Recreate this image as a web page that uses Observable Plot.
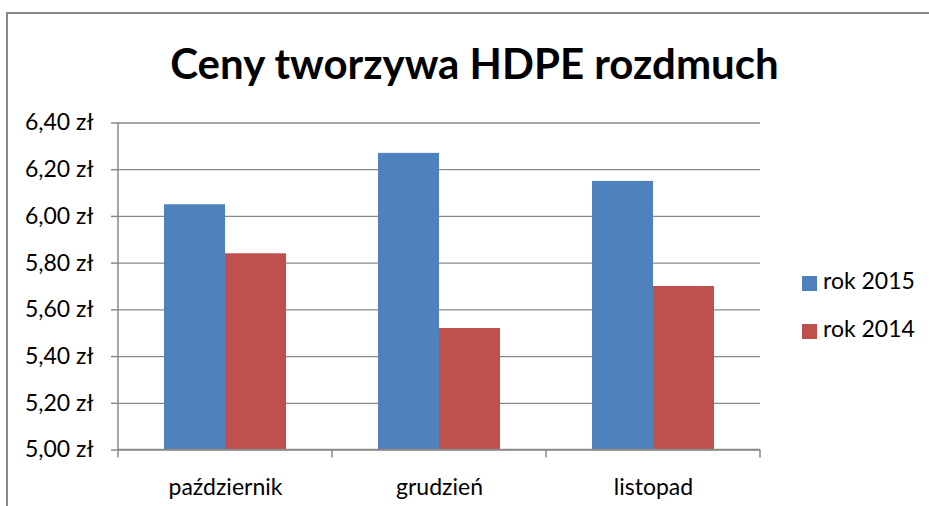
<!DOCTYPE html>
<html>
<head>
<meta charset="utf-8">
<script src="https://cdn.jsdelivr.net/npm/d3@7"></script>
<script src="https://cdn.jsdelivr.net/npm/@observablehq/plot@0.6"></script>
<style>
  html, body { margin: 0; padding: 0; background: #fff; }
  #wrap { position: relative; width: 929px; height: 506px; overflow: hidden; font-family: Lato, "Open Sans", sans-serif; color: #000; }
  #border { position: absolute; left: 6px; top: 12px; width: 960px; height: 540px; border: 2px solid #898989; box-sizing: border-box; }
  #chart { position: absolute; left: 0; top: 0; }
  #title { position: absolute; left: 0; width: 949px; top: 42px; text-align: center; font-weight: bold; font-size: 42px; line-height: 42px; white-space: nowrap; }
  .leg { position: absolute; left: 802px; font-size: 23px; line-height: 23px; white-space: nowrap; }
  .leg .sw { position: absolute; left: 0; top: 7px; width: 15px; height: 15px; }
  .leg .lb { position: absolute; left: 21px; top: 0; }
</style>
</head>
<body>
<div id="wrap">
  <div id="border"></div>
  <div id="chart"></div>
  <div id="title"></div>
  <div id="legend"></div>
</div>
<script>
const titleText = "Ceny tworzywa HDPE rozdmuch";
const categories = ["październik", "grudzień", "listopad"];
const series = ["rok 2015", "rok 2014"];
const values2015 = [6.05, 6.27, 6.15];
const values2014 = [5.84, 5.52, 5.70];
const yTicks = [5.0, 5.2, 5.4, 5.6, 5.8, 6.0, 6.2, 6.4];
const colors = ["#4F81BD", "#C0504D"];

const data = categories.flatMap((c, i) => [
  {category: c, series: series[0], value: values2015[i]},
  {category: c, series: series[1], value: values2014[i]}
]);

const gridColor = "#898989";
const fmt = d => d.toFixed(2).replace(".", ",") + " zł";

function axisDecor(index, scales, values, dimensions) {
  const {width, height, marginLeft, marginRight, marginTop, marginBottom} = dimensions;
  let fx = scales.fx;
  let bw;
  if (fx) {
    bw = typeof fx.bandwidth === "function" ? fx.bandwidth() : fx.bandwidth;
  }
  if (!fx || bw == null) {
    fx = d3.scaleBand(categories, [marginLeft, width - marginRight]);
    bw = fx.bandwidth();
  }
  const y = scales.y;
  const y0 = y(yTicks[0]);
  const yTop = y(yTicks[yTicks.length - 1]);
  const edges = categories.map(c => fx(c)).concat([fx(categories[categories.length - 1]) + bw]);
  const g = d3.create("svg:g").attr("stroke", gridColor).attr("stroke-width", 1.5).attr("fill", "none");
  edges.forEach(xx => g.append("line").attr("x1", xx).attr("x2", xx).attr("y1", y0).attr("y2", y0 + 8));
  g.append("line").attr("x1", edges[0]).attr("x2", edges[0]).attr("y1", yTop).attr("y2", y0);
  g.append("line").attr("x1", edges[0]).attr("x2", edges[edges.length - 1]).attr("y1", y0).attr("y2", y0);
  return g.node();
}

const chart = Plot.plot({
  width: 929,
  height: 506,
  marginLeft: 117,
  marginRight: 169,
  marginTop: 122.5,
  marginBottom: 56.5,
  style: {fontFamily: "Lato, 'Open Sans', sans-serif", fontSize: "23px", color: "#000", background: "transparent", overflow: "visible"},
  fx: {domain: categories, padding: 0, axis: null, label: null},
  x: {domain: series, paddingInner: 0, paddingOuter: 0.737, axis: null},
  y: {domain: [yTicks[0], yTicks[yTicks.length - 1]], axis: null},
  color: {domain: series, range: colors},
  marks: [
    Plot.ruleY(yTicks, {y: d => d, stroke: gridColor, strokeWidth: 1.3}),
    Plot.barY(data, {fx: "category", x: "series", y1: yTicks[0], y2: "value", fill: "series"}),
    Plot.axisY(yTicks, {anchor: "left", tickSize: 7, tickPadding: 18, tickFormat: fmt, stroke: gridColor, strokeWidth: 1.5, fill: "#000", fontSize: 23, label: null}),
    Plot.axisFx({anchor: "bottom", tickSize: 0, tickPadding: 29, fill: "#000", fontSize: 23, label: null}),
    Plot.frame({facet: "super", render: axisDecor})
  ]
});
document.getElementById("chart").appendChild(chart);
document.getElementById("title").textContent = titleText;

const legend = document.getElementById("legend");
const legTops = [268.5, 316.5];
series.forEach((s, i) => {
  const item = document.createElement("div");
  item.className = "leg";
  item.style.top = legTops[i] + "px";
  const sw = document.createElement("span");
  sw.className = "sw";
  sw.style.background = colors[i];
  const lb = document.createElement("span");
  lb.className = "lb";
  lb.textContent = s;
  item.appendChild(sw);
  item.appendChild(lb);
  legend.appendChild(item);
});
</script>
</body>
</html>
